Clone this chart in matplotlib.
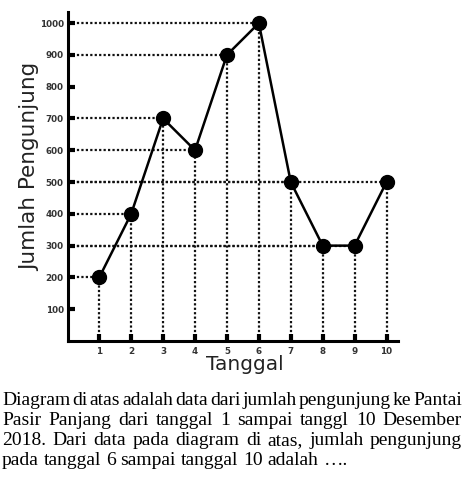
import matplotlib
matplotlib.use("Agg")
import matplotlib.pyplot as plt

days = [1, 2, 3, 4, 5, 6, 7, 8, 9, 10]
visitors = [200, 400, 700, 600, 900, 1000, 500, 300, 300, 500]
yticks = [100, 200, 300, 400, 500, 600, 700, 800, 900, 1000]
xlabel = "Tanggal"
ylabel = "Jumlah Pengunjung"
paragraph = [
    "Diagram di atas adalah data dari jumlah pengunjung ke Pantai",
    "Pasir Panjang dari tanggal 1 sampai tanggl 10 Desember",
    "2018. Dari data pada diagram di atas, jumlah pengunjung",
    "pada tanggal 6 sampai tanggal 10 adalah \u2026.",
]

W, H = 464, 480
fig = plt.figure(figsize=(W / 100, H / 100), dpi=100)
fig.patch.set_facecolor("white")

x0, x1 = 68, 398
ytop, ybot = 12, 341
ax = fig.add_axes([x0 / W, (H - ybot) / H, (x1 - x0) / W, (ybot - ytop) / H])
xmin, xmax = 0.02, 10.36
ax.set_xlim(xmin, xmax)
ax.set_ylim(0, 1035)

for xd, yv in zip(days, visitors):
    ax.plot([xmin, xd], [yv, yv], color="#111111", lw=1.6, ls=(0, (1, 1)), zorder=1)
    ax.plot([xd, xd], [0, yv], color="#111111", lw=1.6, ls=(0, (1, 1)), zorder=1)

ax.plot(days, visitors, color="black", lw=1.8, marker="o", markersize=10, zorder=3)

for s in ["top", "right"]:
    ax.spines[s].set_visible(False)
for s in ["left", "bottom"]:
    ax.spines[s].set_linewidth(2.2)

ax.set_xticks(days)
ax.set_yticks(yticks)
ax.tick_params(direction="in", length=5, width=3, colors="black",
               labelsize=6.3, labelcolor="#333333")
ax.tick_params(axis="y", pad=3)
ax.tick_params(axis="x", pad=4)
for lab in ax.get_xticklabels() + ax.get_yticklabels():
    lab.set_fontweight("bold")

fig.text(245 / W, 1 - 365 / H, xlabel, ha="center", va="center",
         fontsize=14.5, color="#222222", family="DejaVu Sans")
fig.text(30 / W, 1 - 167 / H, ylabel, ha="center", va="center",
         rotation=90, fontsize=15.5, color="#222222", family="DejaVu Sans")

# justified paragraph
FS = 14
renderer = fig.canvas.get_renderer()
left, right = 2, 462
baselines = [405, 425, 445, 465]
for i, (line, base) in enumerate(zip(paragraph, baselines)):
    words = line.split(" ")
    texts = [fig.text(0, 1 - base / H, w, ha="left", va="baseline",
                      fontsize=FS, family="Liberation Serif", color="black")
             for w in words]
    widths = [t.get_window_extent(renderer).width for t in texts]
    space = fig.text(0, 0, "a a", fontsize=FS, family="Liberation Serif")
    sw = space.get_window_extent(renderer).width
    aa = fig.text(0, 0, "aa", fontsize=FS, family="Liberation Serif")
    sw -= aa.get_window_extent(renderer).width
    space.remove()
    aa.remove()
    if i < len(paragraph) - 1:
        gap = (right - left - sum(widths)) / (len(words) - 1)
    else:
        gap = sw
    x = left
    for t, w in zip(texts, widths):
        t.set_x(x / W)
        x += w + gap

fig.savefig("out.png", dpi=100, facecolor="white")
